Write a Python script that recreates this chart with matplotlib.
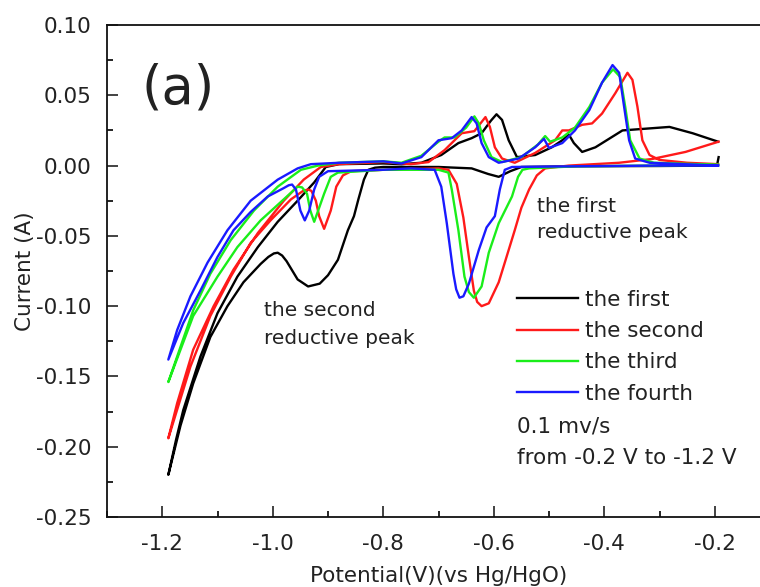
import matplotlib
matplotlib.use("Agg")
import matplotlib.pyplot as plt
from matplotlib.ticker import MultipleLocator, FormatStrFormatter

plt.rcParams['font.family'] = ['DejaVu Sans']
plt.rcParams['axes.unicode_minus'] = False

# ---------------- data (potential V vs Hg/HgO, current A) ----------------
first_v = [-0.193, -0.196, -0.30, -0.45, -0.55, -0.57, -0.591, -0.61, -0.64, -0.70, -0.80,
           -0.815, -0.827, -0.835, -0.845, -0.853, -0.864, -0.882, -0.90, -0.915, -0.936, -0.955,
           -0.975, -0.983, -0.991, -0.998, -1.008, -1.022, -1.053, -1.082, -1.113, -1.144, -1.167, -1.189,
           -1.175, -1.162, -1.131, -1.10, -1.064, -1.027, -0.991, -0.955, -0.925, -0.904,
           -0.88, -0.80, -0.767, -0.731, -0.695, -0.664, -0.64, -0.622, -0.605, -0.595,
           -0.585, -0.573, -0.558, -0.525, -0.495, -0.476, -0.464, -0.455, -0.44, -0.416,
           -0.367, -0.282, -0.24, -0.194]
first_i = [0.006, 0.000, -0.0003, -0.0005, -0.001, -0.004, -0.008, -0.006, -0.002, -0.001, -0.001,
           -0.0015, -0.003, -0.010, -0.024, -0.036, -0.046, -0.067, -0.078, -0.084, -0.086, -0.081,
           -0.068, -0.064, -0.062, -0.0625, -0.065, -0.070, -0.083, -0.100, -0.122, -0.155, -0.185, -0.220,
           -0.195, -0.174, -0.136, -0.105, -0.079, -0.058, -0.040, -0.025, -0.012, -0.001,
           0.001, 0.0015, 0.001, 0.002, 0.0075, 0.016, 0.0195, 0.023, 0.032, 0.0365,
           0.0325, 0.018, 0.006, 0.0075, 0.013, 0.018, 0.022, 0.016, 0.0097, 0.013,
           0.025, 0.0275, 0.023, 0.017]

second_v = [-0.193, -0.253, -0.313, -0.373, -0.464, -0.507, -0.522, -0.536, -0.55, -0.562,
            -0.58, -0.591, -0.609, -0.622, -0.63, -0.636, -0.645, -0.655, -0.667, -0.682,
            -0.70, -0.80, -0.858, -0.873, -0.885, -0.895, -0.907, -0.916, -0.922, -0.930, -0.936,
            -0.945, -0.967, -1.004, -1.04, -1.076, -1.113, -1.149, -1.189,
            -1.173, -1.144, -1.107, -1.071, -1.027, -0.98, -0.944, -0.913, -0.88, -0.80,
            -0.75, -0.718, -0.689, -0.658, -0.635, -0.615, -0.607, -0.598, -0.585, -0.562,
            -0.525, -0.489, -0.476, -0.464, -0.44, -0.422, -0.404, -0.38, -0.358, -0.349,
            -0.34, -0.331, -0.318, -0.30, -0.25, -0.194]
second_i = [0.017, 0.0097, 0.0047, 0.002, 0.0, -0.002, -0.007, -0.017, -0.030, -0.046,
            -0.069, -0.083, -0.098, -0.100, -0.097, -0.089, -0.065, -0.037, -0.013, -0.003,
            -0.002, -0.003, -0.004, -0.007, -0.015, -0.032, -0.045, -0.036, -0.025, -0.018, -0.017,
            -0.018, -0.024, -0.039, -0.055, -0.079, -0.107, -0.143, -0.194,
            -0.169, -0.131, -0.100, -0.074, -0.048, -0.025, -0.010, -0.001, 0.001, 0.0025,
            0.001, 0.0025, 0.011, 0.023, 0.0245, 0.0345, 0.0275, 0.013, 0.005, 0.002,
            0.009, 0.018, 0.025, 0.025, 0.029, 0.030, 0.037, 0.0515, 0.066, 0.061,
            0.042, 0.018, 0.0075, 0.004, 0.002, 0.001]

third_v = [-0.194, -0.30, -0.45, -0.536, -0.548, -0.556, -0.567, -0.591, -0.609, -0.622, -0.636,
           -0.645, -0.653, -0.664, -0.676, -0.682, -0.70, -0.80, -0.882, -0.895, -0.907,
           -0.925, -0.932, -0.938, -0.947, -0.955, -0.98, -1.022, -1.064, -1.10, -1.144, -1.189,
           -1.167, -1.144, -1.113, -1.076, -1.034, -0.991, -0.949, -0.918, -0.88, -0.80,
           -0.767, -0.731, -0.70, -0.689, -0.671, -0.65, -0.635, -0.627, -0.618, -0.604,
           -0.585, -0.55, -0.52, -0.507, -0.498, -0.476, -0.453, -0.427, -0.404, -0.384,
           -0.371, -0.362, -0.353, -0.336, -0.31, -0.194]
third_i = [0.0005, 0.0, -0.0005, -0.002, -0.003, -0.008, -0.022, -0.041, -0.062, -0.086, -0.094,
           -0.090, -0.079, -0.046, -0.017, -0.005, -0.003, -0.003, -0.005, -0.008, -0.020,
           -0.040, -0.032, -0.020, -0.0155, -0.015, -0.024, -0.039, -0.058, -0.079, -0.107, -0.154,
           -0.129, -0.103, -0.077, -0.053, -0.032, -0.015, -0.003, 0.0, 0.002, 0.003,
           0.002, 0.007, 0.017, 0.020, 0.020, 0.027, 0.035, 0.030, 0.018, 0.006,
           0.0025, 0.006, 0.015, 0.021, 0.017, 0.020, 0.027, 0.0417, 0.059, 0.0685,
           0.063, 0.0417, 0.018, 0.005, 0.002, 0.0005]

fourth_v = [-0.194, -0.30, -0.45, -0.567, -0.58, -0.589, -0.598, -0.613, -0.627, -0.645,
            -0.655, -0.662, -0.668, -0.673, -0.685, -0.695, -0.707, -0.75, -0.80, -0.90,
            -0.916, -0.925, -0.934, -0.942, -0.95, -0.958, -0.965, -0.971, -0.980, -1.009, -1.04,
            -1.071, -1.10, -1.131, -1.162, -1.189,
            -1.173, -1.149, -1.118, -1.082, -1.04, -0.991, -0.955, -0.931, -0.88, -0.80,
            -0.767, -0.731, -0.70, -0.676, -0.658, -0.64, -0.631, -0.622, -0.609, -0.591,
            -0.555, -0.525, -0.509, -0.50, -0.476, -0.453, -0.427, -0.404, -0.385, -0.373,
            -0.364, -0.355, -0.344, -0.318, -0.194]
fourth_i = [0.0, 0.0, -0.0005, -0.001, -0.003, -0.017, -0.036, -0.044, -0.060, -0.084,
            -0.093, -0.094, -0.088, -0.077, -0.041, -0.015, -0.003, -0.002, -0.003, -0.004,
            -0.008, -0.017, -0.032, -0.039, -0.032, -0.017, -0.0135, -0.014, -0.016, -0.022, -0.033,
            -0.046, -0.065, -0.089, -0.112, -0.138,
            -0.117, -0.093, -0.069, -0.046, -0.025, -0.010, -0.002, 0.001, 0.002, 0.003,
            0.0015, 0.006, 0.018, 0.0195, 0.025, 0.0345, 0.030, 0.016, 0.006, 0.002,
            0.005, 0.013, 0.019, 0.0125, 0.016, 0.025, 0.0395, 0.059, 0.0715, 0.066,
            0.0417, 0.018, 0.005, 0.002, 0.0]

series_labels = ['the first', 'the second', 'the third', 'the fourth']
series_colors = ['#000000', '#ff1a1a', '#1aee1a', '#1a1aff']
x_ticks = [-1.2, -1.0, -0.8, -0.6, -0.4, -0.2]
y_ticks = [-0.25, -0.20, -0.15, -0.10, -0.05, 0.00, 0.05, 0.10]

# ---------------- figure ----------------
W, H = 760, 587
fig = plt.figure(figsize=(W / 100, H / 100), dpi=100)
ax_l, ax_r, ax_t, ax_b = 107, 770, 25, 517
ax = fig.add_axes([ax_l / W, 1 - ax_b / H, (ax_r - ax_l) / W, (ax_b - ax_t) / H])

data = [(first_v, first_i), (second_v, second_i), (third_v, third_i), (fourth_v, fourth_i)]
handles = []
for (v, i), lab, col in zip(data, series_labels, series_colors):
    ln, = ax.plot(v, i, color=col, lw=1.7, solid_joinstyle='round', label=lab)
    handles.append(ln)

ax.set_xlim(-1.3, -0.1)
ax.set_ylim(-0.25, 0.10)
ax.set_xticks(x_ticks)
ax.set_yticks(y_ticks)
ax.xaxis.set_minor_locator(MultipleLocator(0.1))
ax.yaxis.set_minor_locator(MultipleLocator(0.025))
ax.xaxis.set_major_formatter(FormatStrFormatter('%.1f'))
ax.yaxis.set_major_formatter(FormatStrFormatter('%.2f'))
ax.tick_params(which='major', direction='in', length=8, width=1.2, top=False, right=False,
               labelsize=15.5, colors='#222222')
ax.tick_params(axis='y', which='major', pad=11)
ax.tick_params(axis='x', which='major', pad=12)
ax.tick_params(which='minor', direction='in', length=4.5, width=1.2, top=False, right=False)
for s in ax.spines.values():
    s.set_linewidth(1.3)
    s.set_color('#111111')

ax.set_xlabel('Potential(V)(vs Hg/HgO)', fontsize=15.5, color='#222222', labelpad=9)
ax.set_ylabel('Current (A)', fontsize=15.5, color='#222222', labelpad=1)

def ftext(x, y, s, **kw):
    fig.text(x / W, 1 - y / H, s, va='center', ha='left', color='#222222', **kw)

ftext(141, 88, '(a)', fontsize=38)
ftext(264, 311, 'the second', fontsize=14.5)
ftext(264, 338, 'reductive peak', fontsize=14.5)
ftext(537, 206, 'the first', fontsize=14.5)
ftext(537, 233, 'reductive peak', fontsize=14.5)

leg = ax.legend(handles=handles, labels=series_labels, loc='upper left',
                bbox_to_anchor=(517 / W, 1 - 290 / H), bbox_transform=fig.transFigure,
                frameon=False, fontsize=15.5, handlelength=2.85, handletextpad=0.3,
                labelspacing=0.52, borderpad=0, borderaxespad=0)
for t in leg.get_texts():
    t.set_color('#222222')
ftext(517, 427, '0.1 mv/s', fontsize=15.5)
ftext(517, 458, 'from -0.2 V to -1.2 V', fontsize=15.5)

fig.savefig('out.png', dpi=100)
